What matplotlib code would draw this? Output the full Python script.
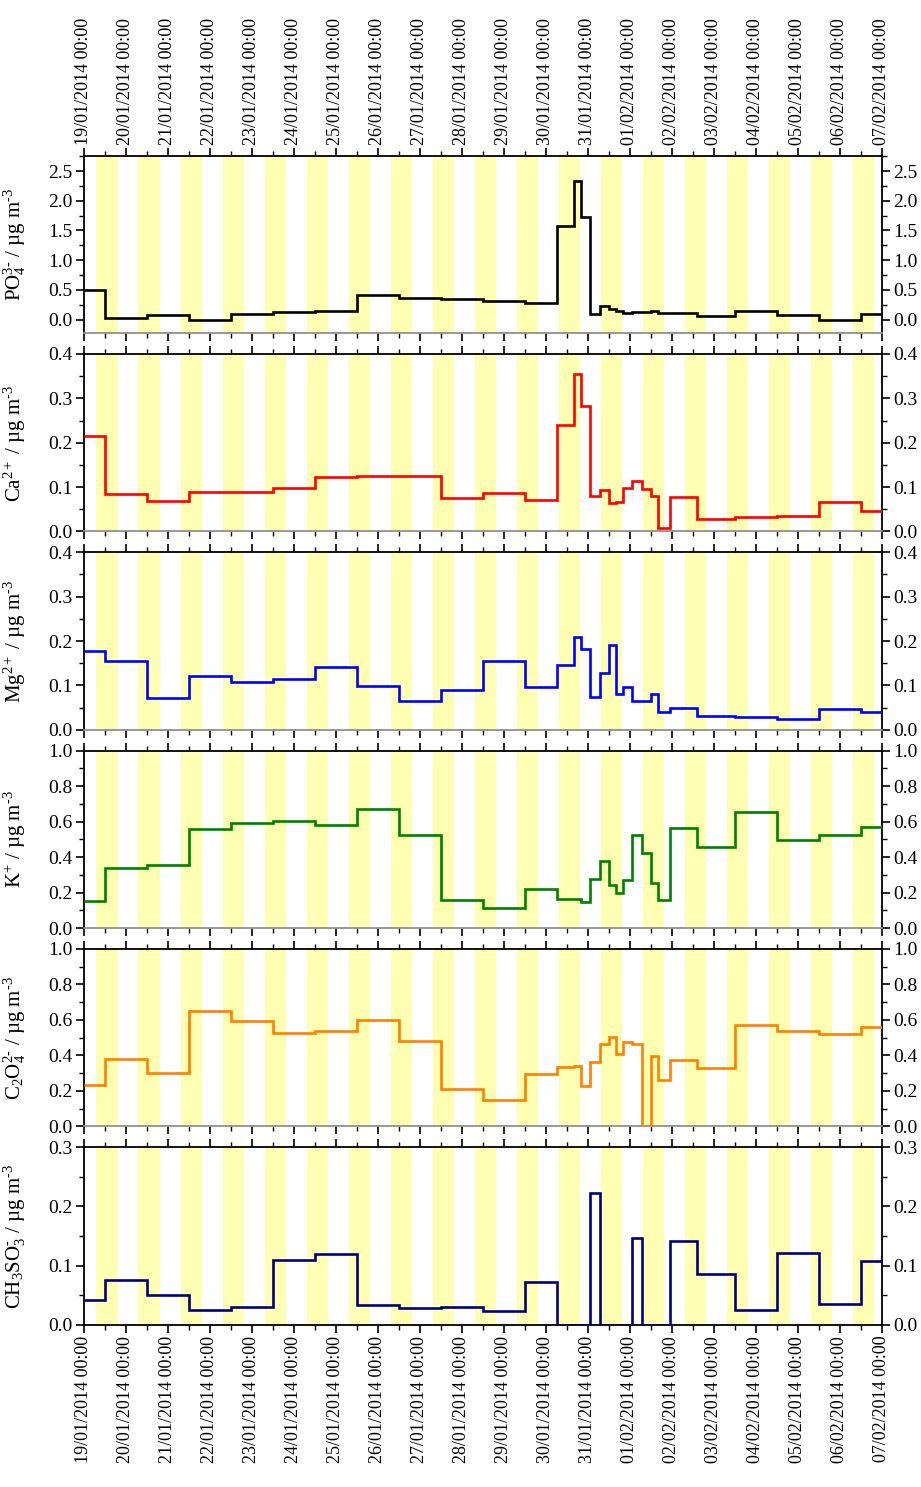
import matplotlib
matplotlib.use("Agg")
import matplotlib.pyplot as plt
import matplotlib.dates as mdates
from matplotlib.ticker import MultipleLocator, FormatStrFormatter
import pandas as pd

plt.rcParams['font.family'] = ['Liberation Serif', 'DejaVu Serif']
plt.rcParams['mathtext.fontset'] = 'custom'
plt.rcParams['mathtext.rm'] = 'Liberation Serif'
plt.rcParams['mathtext.it'] = 'Liberation Serif:italic'
plt.rcParams['mathtext.default'] = 'rm'

# sample boundaries (start of each filter, last entry = end of the last one)
edges = [
    "2014-01-19 00:00", "2014-01-19 12:00", "2014-01-20 12:00", "2014-01-21 12:00",
    "2014-01-22 12:00", "2014-01-23 12:00", "2014-01-24 12:30", "2014-01-25 12:15",
    "2014-01-26 12:15", "2014-01-27 12:15", "2014-01-28 12:00", "2014-01-29 12:00",
    "2014-01-30 06:45", "2014-01-30 16:00", "2014-01-30 20:10", "2014-01-31 01:10",
    "2014-01-31 07:00", "2014-01-31 12:00", "2014-01-31 16:20", "2014-01-31 20:25",
    "2014-02-01 01:10", "2014-02-01 07:00", "2014-02-01 12:00", "2014-02-01 16:05",
    "2014-02-01 23:20", "2014-02-02 14:25", "2014-02-03 12:15", "2014-02-04 12:00",
    "2014-02-05 12:00", "2014-02-06 12:00", "2014-02-07 00:00",
]

po4 = [0.50, 0.03, 0.07, 0.00, 0.10, 0.13, 0.145, 0.415, 0.355, 0.34,
       0.31, 0.275, 1.57, 2.34, 1.73, 0.09, 0.224, 0.185, 0.14, 0.118,
       0.135, 0.135, 0.152, 0.118, 0.118, 0.056, 0.146, 0.084, 0.0, 0.10]
ca = [0.215, 0.084, 0.068, 0.090, 0.090, 0.099, 0.123, 0.125, 0.125, 0.075,
      0.086, 0.072, 0.240, 0.355, 0.282, 0.079, 0.093, 0.064, 0.066, 0.098,
      0.113, 0.095, 0.081, 0.008, 0.078, 0.029, 0.032, 0.035, 0.066, 0.046]
mg = [0.178, 0.156, 0.071, 0.121, 0.108, 0.114, 0.141, 0.099, 0.065, 0.090,
      0.156, 0.097, 0.147, 0.210, 0.183, 0.075, 0.129, 0.190, 0.080, 0.096,
      0.064, 0.064, 0.080, 0.040, 0.050, 0.032, 0.029, 0.024, 0.047, 0.040]
k = [0.150, 0.340, 0.355, 0.561, 0.593, 0.604, 0.579, 0.671, 0.523, 0.159,
     0.112, 0.222, 0.163, 0.165, 0.148, 0.279, 0.376, 0.243, 0.198, 0.271,
     0.523, 0.424, 0.252, 0.159, 0.566, 0.458, 0.652, 0.497, 0.527, 0.570]
c2o4 = [0.231, 0.378, 0.303, 0.652, 0.594, 0.524, 0.539, 0.598, 0.481, 0.209,
        0.148, 0.295, 0.336, 0.342, 0.229, 0.361, 0.466, 0.504, 0.410, 0.476,
        0.464, 0.0, 0.395, 0.259, 0.372, 0.329, 0.571, 0.539, 0.519, 0.562]
msa = [0.042, 0.076, 0.050, 0.025, 0.030, 0.110, 0.119, 0.033, 0.028, 0.030,
       0.023, 0.073, 0.0, 0.0, 0.0, 0.223, 0.0, 0.0, 0.0, 0.0,
       0.146, 0.0, 0.0, 0.0, 0.142, 0.085, 0.025, 0.122, 0.035, 0.108]

labels = ['PO$_4^{3\u2010}$ / µg m$^{\u20103}$', 'Ca$^{2+}$ / µg m$^{\u20103}$',
          'Mg$^{2+}$ / µg m$^{\u20103}$', 'K$^{+}$ / µg m$^{\u20103}$',
          'C$_2$O$_4^{2\u2010}$ / µg m$^{\u20103}$',
          'CH$_3$SO$_3^{\u2010}$ / µg m$^{\u20103}$']
series = [po4, ca, mg, k, c2o4, msa]
colors = ['black', '#ff0000', '#0000ff', '#008000', '#ff8000', '#000080']
ylims = [(-0.23, 2.76), (0, 0.4), (0, 0.4), (0, 1.0), (0, 1.0), (0, 0.3)]
steps = [(0.5, 0.25), (0.1, 0.05), (0.1, 0.05), (0.2, 0.1), (0.2, 0.1), (0.1, 0.05)]

t = mdates.date2num(pd.to_datetime(edges))
start, end = t[0], t[-1]

W, H = 921, 1487
fig = plt.figure(figsize=(W / 100, H / 100), dpi=100)

left, right = 83.5, 881.7
top0, ph, gap = 155.7, 177.5, 20.8

for i, (vals, lab, col, yl, st) in enumerate(zip(series, labels, colors, ylims, steps)):
    ptop = top0 + i * (ph + gap)
    ax = fig.add_axes([left / W, 1 - (ptop + ph) / H, (right - left) / W, ph / H])

    # daytime shading
    day = pd.Timestamp("2014-01-19")
    while day < pd.Timestamp("2014-02-07"):
        a = mdates.date2num(day + pd.Timedelta(hours=7, minutes=25))
        b = mdates.date2num(day + pd.Timedelta(hours=19, minutes=35))
        ax.axvspan(a, b, color='#ffffb4', lw=0, zorder=0)
        day += pd.Timedelta(days=1)

    ax.stairs(vals, t, baseline=None, color=col, lw=1.9, zorder=3)

    ax.set_xlim(start, end)
    ax.set_ylim(*yl)
    ax.yaxis.set_major_locator(MultipleLocator(st[0]))
    ax.yaxis.set_minor_locator(MultipleLocator(st[1]))
    ax.yaxis.set_major_formatter(FormatStrFormatter('%.1f'))
    ax.xaxis.set_major_locator(mdates.DayLocator())
    ax.xaxis.set_minor_locator(mdates.HourLocator(byhour=[12]))
    ax.xaxis.set_major_formatter(mdates.DateFormatter('%d/%m/%Y %H:%M'))

    ax.tick_params(which='both', direction='out', top=True, right=True,
                   labelright=True, labelbottom=(i == 5), labeltop=(i == 0))
    ax.tick_params(which='major', length=6, width=1.2, labelsize=14, pad=2)
    ax.tick_params(which='minor', length=3.5, width=1.0)
    ax.tick_params(axis='x', labelsize=13, labelrotation=90)
    for s in ax.spines.values():
        s.set_linewidth(1.3)
    if i < 5:
        ax.spines['bottom'].set_color('#909090')

    ax.set_ylabel(lab, fontsize=15)
    ax.yaxis.set_label_coords(-0.069, 0.5)

fig.savefig('out.png', dpi=100)
